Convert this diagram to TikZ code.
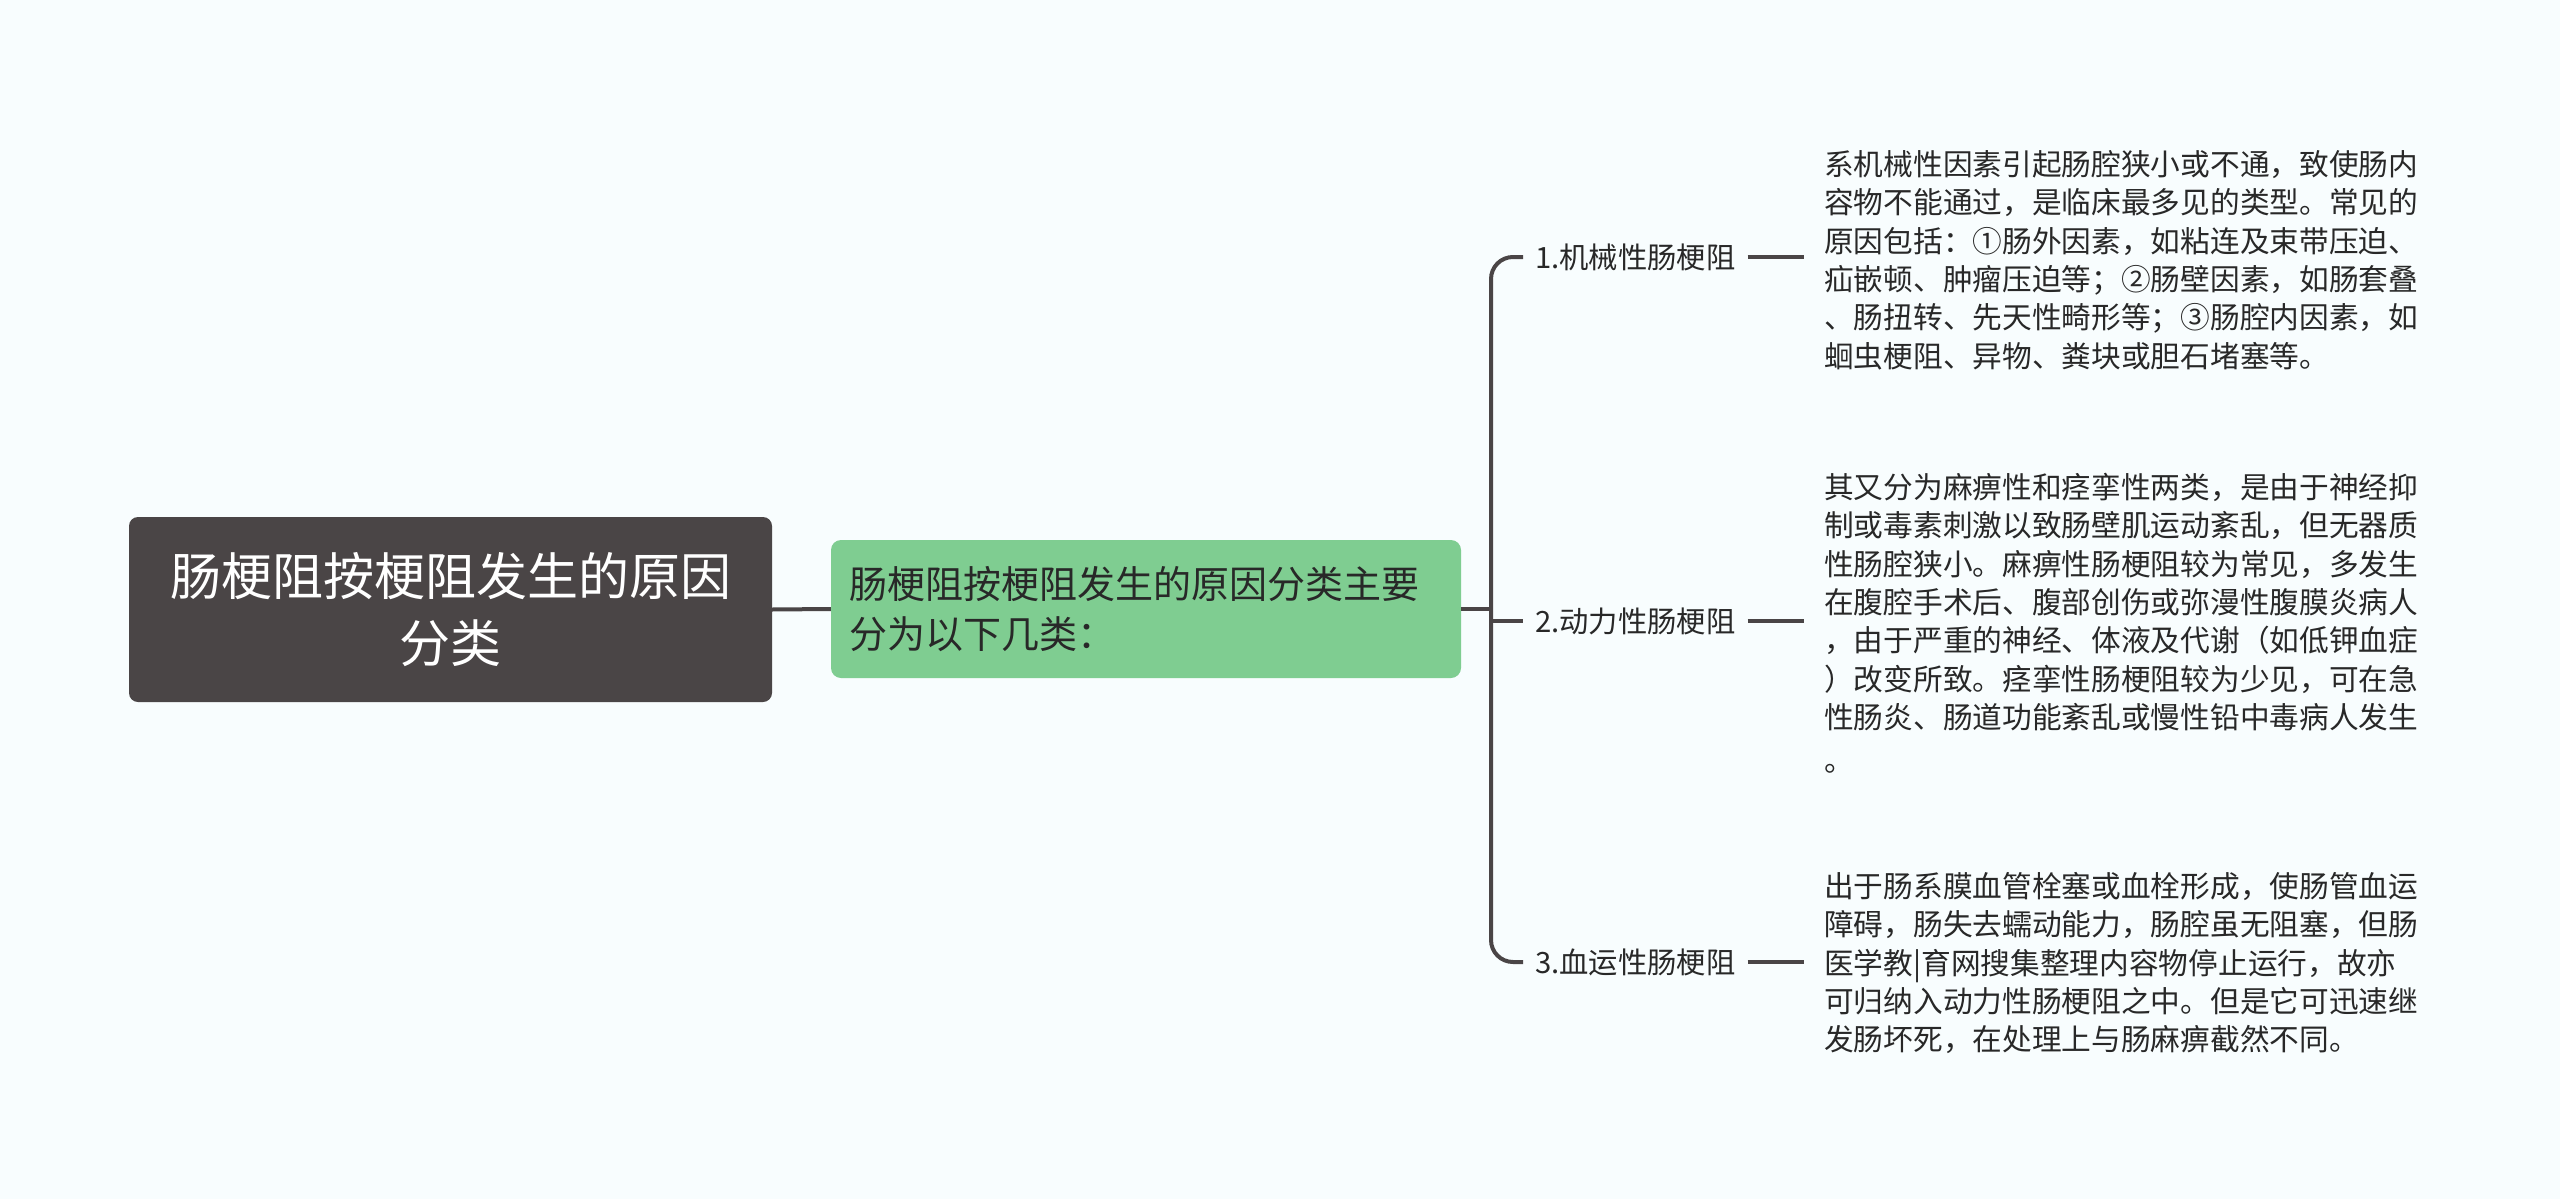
\documentclass[tikz,border=0pt]{standalone}
\usepackage{fontspec}
\setmainfont{Noto Sans CJK SC}
\definecolor{bgc}{RGB}{248,253,254}
\definecolor{darkc}{RGB}{74,69,70}
\definecolor{greenc}{RGB}{127,205,145}
\definecolor{txtc}{RGB}{40,40,40}
\tikzset{
  conn/.style={draw=darkc, line width=4pt},
  rootbox/.style={fill=darkc, rounded corners=9pt, minimum width=643pt, minimum height=185pt,
     text=white, align=center, text width=610pt,
     font=\fontsize{51pt}{67pt}\selectfont},
  mainbox/.style={fill=greenc, rounded corners=10pt, minimum width=630pt, minimum height=138pt,
     text=txtc, align=left, text width=594pt, inner xsep=18pt,
     font=\fontsize{38pt}{50pt}\selectfont},
  catlabel/.style={text=txtc, inner xsep=12pt, inner ysep=4pt, anchor=west,
     font=\fontsize{29.3pt}{34pt}\selectfont},
  desc/.style={text=txtc, inner xsep=20pt, anchor=west, align=left,
     font=\fontsize{29.7pt}{38.4pt}\selectfont}
}
\begin{document}
\begin{tikzpicture}[x=1pt,y=-1pt]
\fill[bgc] (0,0) rectangle (2560,1199);
\useasboundingbox (0,0) rectangle (2560,1199);

\node[rootbox] (root) at (450.5,609.5) {肠梗阻按梗阻发生的原因\\分类};
\node[mainbox] (main) at (1146,609) {肠梗阻按梗阻发生的原因分类主要\\分为以下几类：};

\coordinate (bx) at (1491,0);

\node[catlabel] (c1) at (1523,257) {1.机械性肠梗阻};
\node[catlabel] (c2) at (1523,621) {2.动力性肠梗阻};
\node[catlabel] (c3) at (1523,962) {3.血运性肠梗阻};

\node[desc] (d1) at (1804,260) {系机械性因素引起肠腔狭小或不通，致使肠内\\容物不能通过，是临床最多见的类型。常见的\\原因包括：①肠外因素，如粘连及束带压迫、\\疝嵌顿、肿瘤压迫等；②肠壁因素，如肠套叠\\、肠扭转、先天性畸形等；③肠腔内因素，如\\蛔虫梗阻、异物、粪块或胆石堵塞等。};
\node[desc] (d2) at (1804,623) {其又分为麻痹性和痉挛性两类，是由于神经抑\\制或毒素刺激以致肠壁肌运动紊乱，但无器质\\性肠腔狭小。麻痹性肠梗阻较为常见，多发生\\在腹腔手术后、腹部创伤或弥漫性腹膜炎病人\\，由于严重的神经、体液及代谢（如低钾血症\\）改变所致。痉挛性肠梗阻较为少见，可在急\\性肠炎、肠道功能紊乱或慢性铅中毒病人发生\\[4pt]。};
\node[desc] (d3) at (1804,963) {出于肠系膜血管栓塞或血栓形成，使肠管血运\\障碍，肠失去蠕动能力，肠腔虽无阻塞，但肠\\医学教|育网搜集整理内容物停止运行，故亦\\可归纳入动力性肠梗阻之中。但是它可迅速继\\发肠坏死，在处理上与肠麻痹截然不同。};

\draw[conn] (root.east) -- (main.west);
\draw[conn] (main.east) -- (main.east -| bx);
\draw[conn, rounded corners=22pt] (c1.west) -- (c1.west -| bx) -- (c3.west -| bx) -- (c3.west);
\draw[conn] (c2.west -| bx) -- (c2.west);
\draw[conn] (c1.east) -- (c1.east -| d1.west);
\draw[conn] (c2.east) -- (c2.east -| d2.west);
\draw[conn] (c3.east) -- (c3.east -| d3.west);
\end{tikzpicture}
\end{document}
